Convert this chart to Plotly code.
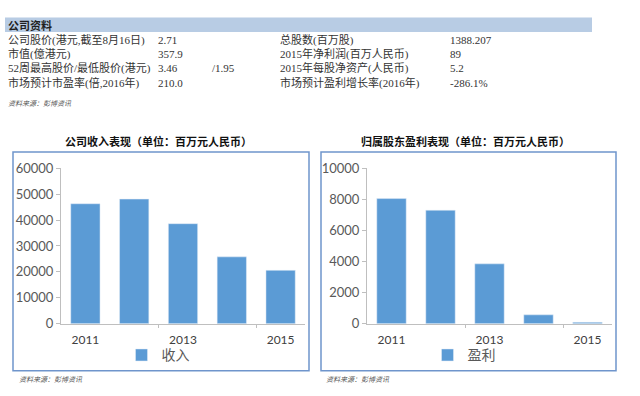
import plotly.graph_objects as go

# ---- data ----
years = [2011, 2012, 2013, 2014, 2015]
revenue = [46300, 48100, 38600, 25800, 20600]
profit = [8050, 7300, 3850, 570, 89]
rev_ticks = [0, 10000, 20000, 30000, 40000, 50000, 60000]
prof_ticks = [0, 2000, 4000, 6000, 8000, 10000]
x_labels = [2011, 2013, 2015]

table_left_labels = ["公司股价(港元,截至8月16日)", "市值(億港元)", "52周最高股价/最低股价(港元)", "市场预计市盈率(倍,2016年)"]
table_left_values = ["2.71", "357.9", "3.46", "210.0"]
table_right_labels = ["总股数(百万股)", "2015年净利润(百万人民币)", "2015年每股净资产(人民币)", "市场预计盈利增长率(2016年)"]
table_right_values = ["1388.207", "89", "5.2", "-286.1%"]
low_price = "/1.95"

W, H = 640, 396
def px(x):
    return x / W
def py(y):
    return 1 - y / H

BAR = "#5b9bd5"
AX = "#bfbfbf"
TXT = "#595959"
SANS = "Lato, 'Noto Sans CJK SC', sans-serif"
SERIF = "'Liberation Serif', 'Noto Sans CJK SC', serif"

fig = go.Figure()
fig.add_trace(go.Bar(x=years, y=revenue, name="收入", marker_color=BAR,
                     xaxis="x", yaxis="y", legend="legend"))
fig.add_trace(go.Bar(x=years, y=profit, name="盈利", marker_color=BAR,
                     xaxis="x2", yaxis="y2", legend="legend2"))

def xax(domain, anchor):
    return dict(domain=domain, anchor=anchor, range=[2010.5, 2015.5],
                tickvals=x_labels, ticktext=[str(v) for v in x_labels],
                ticks="", showline=True, linecolor=AX, linewidth=1,
                showgrid=False, zeroline=False, ticklabelstandoff=5,
                tickfont=dict(family=SANS, size=12, color="#404040"),
                minor=dict(tickvals=[2012.5, 2014.5], ticks="outside", ticklen=3,
                           tickcolor=AX, showgrid=False))

def yax(domain, anchor, rng, tv):
    return dict(domain=domain, anchor=anchor, range=rng, tickvals=tv,
                ticktext=[str(v) for v in tv],
                ticks="outside", ticklen=4, tickcolor=AX, showline=True,
                linecolor=AX, linewidth=1, showgrid=False, zeroline=False,
                tickfont=dict(family=SANS, size=13, color=TXT))

ydom = [py(329), py(167)]
fig.update_layout(
    width=W, height=H, margin=dict(l=0, r=0, t=0, b=0),
    paper_bgcolor="white", plot_bgcolor="white",
    bargap=0.4, showlegend=True,
    xaxis=xax([px(61), px(305)], "y"),
    yaxis=yax(ydom, "x", [0, 60000], rev_ticks),
    xaxis2=xax([px(367), px(612)], "y2"),
    yaxis2=yax(ydom, "x2", [0, 10000], prof_ticks),
    legend=dict(x=px(158), y=py(362), xanchor="center", yanchor="middle",
                orientation="h", itemwidth=30,
                font=dict(family=SANS, size=14, color=TXT),
                bgcolor="rgba(0,0,0,0)"),
    legend2=dict(x=px(464), y=py(362), xanchor="center", yanchor="middle",
                 orientation="h", itemwidth=30,
                 font=dict(family=SANS, size=14, color=TXT),
                 bgcolor="rgba(0,0,0,0)"),
)

shapes = []
# header band
shapes.append(dict(type="rect", xref="paper", yref="paper", x0=px(5), x1=px(592),
                   y0=py(25), y1=py(10), fillcolor="#b8cce4", line=dict(width=0), layer="below"))
# chart boxes
for x0, x1 in [(13, 309), (321, 616)]:
    shapes.append(dict(type="rect", xref="paper", yref="paper", x0=px(x0), x1=px(x1),
                       y0=py(378), y1=py(150), line=dict(color="#6f95cc", width=1.5)))
fig.update_layout(shapes=shapes)

ann = []
def text(x, y, s, size=11, color="#333333", family=SERIF, anchor="left"):
    ann.append(dict(x=px(x), y=py(y), xref="paper", yref="paper", text=s, showarrow=False,
                    xanchor=anchor, yanchor="middle", font=dict(size=size, color=color, family=family)))

text(6, 18, "<b>公司资料</b>", size=11, color="#1f1f1f", family=SANS)
rows_y = [33, 48, 63, 78]
for i, yy in enumerate(rows_y):
    text(6, yy, table_left_labels[i])
    text(156, yy, table_left_values[i])
    text(278, yy, table_right_labels[i])
    text(448, yy, table_right_values[i])
text(210, 63, low_price)
text(6, 99, "<i>资料来源：彭博资讯</i>", size=7, color="#555555", family=SANS)

text(158, 139, "<b>公司收入表现（单位：百万元人民币）</b>", size=11, color="#111111", family=SANS, anchor="center")
text(465, 139, "<b>归属股东盈利表现（单位：百万元人民币）</b>", size=11, color="#111111", family=SANS, anchor="center")
text(17, 387, "<i>资料来源：彭博资讯</i>", size=7, color="#555555", family=SANS)
text(324, 387, "<i>资料来源：彭博资讯</i>", size=7, color="#555555", family=SANS)
fig.update_layout(annotations=ann)

fig.write_html("out.html", config={"displayModeBar": False},
               post_script="document.body.style.margin='0';")
